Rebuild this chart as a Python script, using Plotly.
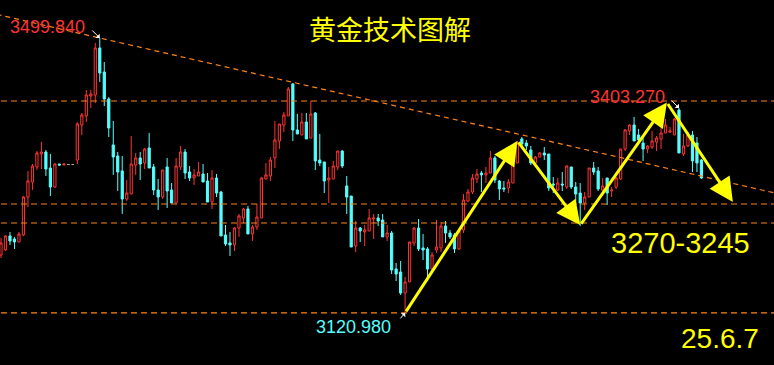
import plotly.graph_objects as go

# ---------------- data ----------------
opens = [3200.8, 3207.7, 3227.0, 3222.9, 3218.7, 3228.4, 3280.7, 3301.4, 3322.1, 3340.0,
         3342.7, 3320.7, 3294.5, 3326.2, 3324.8, 3325.5, 3325.5, 3331.7, 3379.9, 3392.4,
         3419.9, 3421.3, 3486.1, 3453.0, 3415.8, 3352.4, 3337.2, 3316.6, 3277.9, 3284.9,
         3324.8, 3334.5, 3327.6, 3348.3, 3322.1, 3290.4, 3280.7, 3322.1, 3290.4, 3272.5,
         3322.1, 3342.7, 3315.2, 3306.9, 3309.7, 3312.4, 3302.8, 3273.8, 3306.9, 3287.6,
         3228.4, 3217.4, 3214.6, 3238.0, 3251.8, 3264.2, 3229.8, 3239.4, 3251.8, 3305.5,
         3309.7, 3334.5, 3357.9, 3379.9, 3392.4, 3436.5, 3373.1, 3366.2, 3384.1, 3362.0,
         3396.5, 3331.7, 3329.0, 3304.2, 3305.5, 3322.1, 3344.1, 3295.9, 3282.1, 3213.2,
         3238.0, 3232.5, 3233.9, 3250.4, 3251.8, 3249.0, 3225.7, 3231.1, 3181.5, 3177.4,
         3148.4, 3163.6, 3217.4, 3238.0, 3210.5, 3209.1, 3181.5, 3207.7, 3210.5, 3240.8,
         3231.1, 3228.4, 3209.1, 3235.3, 3275.2, 3287.6, 3305.5, 3313.8, 3311.1, 3313.8,
         3334.5, 3302.8, 3293.1, 3293.1, 3300.0, 3327.6, 3360.7, 3355.1, 3345.5, 3327.6,
         3335.9, 3341.4, 3340.0, 3298.6, 3290.4, 3298.6, 3294.5, 3322.1, 3294.5, 3286.2,
         3272.5, 3280.7, 3320.7, 3316.6, 3290.4, 3306.9, 3289.0, 3294.5, 3305.5, 3346.9,
         3371.7, 3379.9, 3366.2, 3355.1, 3346.9, 3349.6, 3356.5, 3360.7, 3368.9, 3370.3,
         3366.2, 3400.6, 3340.0, 3351.0, 3366.2, 3355.1, 3331.7]
highs = [3224.3, 3228.4, 3232.5, 3225.7, 3232.5, 3282.1, 3316.6, 3326.2, 3344.1, 3356.5,
         3345.5, 3340.0, 3327.6, 3326.2, 3326.2, 3325.5, 3325.5, 3384.1, 3396.5, 3428.2,
         3428.2, 3493.0, 3499.84, 3466.8, 3418.5, 3385.4, 3342.7, 3337.2, 3304.2, 3364.8,
         3341.4, 3342.7, 3348.3, 3369.0, 3326.2, 3305.5, 3317.9, 3334.5, 3300.0, 3334.5,
         3351.0, 3346.9, 3323.4, 3319.3, 3329.0, 3326.2, 3313.8, 3317.9, 3312.4, 3289.0,
         3242.2, 3232.5, 3239.4, 3257.3, 3265.6, 3268.3, 3242.2, 3271.1, 3308.3, 3327.6,
         3335.9, 3385.4, 3381.3, 3397.9, 3432.3, 3437.8, 3395.1, 3396.5, 3396.5, 3413.0,
         3397.9, 3367.6, 3329.0, 3322.1, 3330.4, 3344.1, 3345.5, 3309.7, 3282.1, 3247.6,
         3239.4, 3242.2, 3264.2, 3257.3, 3257.3, 3257.3, 3242.2, 3233.9, 3189.8, 3192.5,
         3170.5, 3218.7, 3239.4, 3250.4, 3229.8, 3211.8, 3204.9, 3249.0, 3246.3, 3247.6,
         3235.3, 3231.1, 3233.9, 3284.9, 3291.8, 3312.4, 3319.3, 3316.6, 3322.1, 3344.1,
         3337.2, 3304.2, 3302.8, 3305.5, 3333.1, 3357.9, 3363.4, 3359.3, 3351.0, 3337.2,
         3342.7, 3349.6, 3340.0, 3308.3, 3306.9, 3315.2, 3324.8, 3322.1, 3301.4, 3300.0,
         3287.6, 3320.7, 3329.0, 3322.1, 3306.9, 3306.9, 3294.5, 3308.3, 3346.9, 3374.5,
         3381.3, 3391.0, 3374.5, 3363.4, 3352.4, 3371.7, 3364.8, 3379.9, 3388.2, 3377.2,
         3389.6, 3403.27, 3367.6, 3370.3, 3371.7, 3363.4, 3333.1]
lows = [3196.7, 3206.3, 3214.6, 3209.1, 3218.7, 3227.0, 3266.9, 3290.4, 3317.9, 3319.3,
        3309.7, 3282.1, 3293.1, 3323.4, 3324.8, 3325.5, 3325.5, 3326.2, 3366.2, 3384.1,
        3403.4, 3410.3, 3439.2, 3406.1, 3363.4, 3311.1, 3289.0, 3257.3, 3275.2, 3284.9,
        3311.1, 3304.2, 3319.3, 3320.7, 3283.5, 3262.8, 3277.9, 3265.6, 3272.5, 3272.5,
        3317.9, 3305.5, 3302.8, 3297.3, 3309.7, 3301.4, 3273.8, 3264.2, 3280.7, 3227.0,
        3213.2, 3199.4, 3206.3, 3225.7, 3244.9, 3229.8, 3220.1, 3235.3, 3251.8, 3305.5,
        3302.8, 3320.7, 3346.9, 3370.3, 3392.4, 3357.9, 3367.6, 3366.2, 3360.7, 3362.0,
        3317.9, 3323.4, 3286.2, 3272.5, 3305.5, 3317.9, 3320.7, 3257.3, 3211.8, 3204.9,
        3218.7, 3213.2, 3233.9, 3222.9, 3240.8, 3225.7, 3220.1, 3174.6, 3164.9, 3145.7,
        3120.98, 3163.6, 3213.2, 3206.3, 3193.9, 3164.9, 3180.1, 3203.6, 3204.9, 3217.4,
        3222.9, 3203.6, 3207.7, 3231.1, 3273.8, 3284.9, 3300.0, 3287.6, 3300.0, 3313.8,
        3300.0, 3276.6, 3287.6, 3286.2, 3300.0, 3327.6, 3349.6, 3345.5, 3324.8, 3322.1,
        3335.9, 3331.7, 3289.0, 3286.2, 3289.0, 3289.0, 3291.8, 3291.8, 3272.5, 3240.8,
        3262.8, 3280.7, 3311.1, 3289.0, 3286.2, 3269.7, 3280.7, 3291.8, 3304.2, 3344.1,
        3366.2, 3357.9, 3355.1, 3330.4, 3341.4, 3346.9, 3344.1, 3346.9, 3368.9, 3368.9,
        3366.2, 3341.4, 3337.2, 3349.6, 3315.2, 3315.2, 3305.5]
closes = [3217.4, 3227.0, 3220.1, 3218.7, 3229.8, 3280.7, 3302.8, 3323.4, 3341.4, 3342.7,
          3319.3, 3294.5, 3326.2, 3324.8, 3326.2, 3325.5, 3325.5, 3381.3, 3393.7, 3421.3,
          3422.7, 3486.1, 3451.6, 3415.8, 3375.8, 3335.9, 3315.2, 3277.9, 3286.2, 3326.2,
          3334.5, 3326.2, 3346.9, 3320.7, 3290.4, 3280.7, 3317.9, 3289.0, 3272.5, 3323.4,
          3342.7, 3313.8, 3306.9, 3311.1, 3315.2, 3301.4, 3273.8, 3306.9, 3286.2, 3227.0,
          3216.0, 3214.6, 3238.0, 3254.6, 3264.2, 3229.8, 3239.4, 3253.2, 3306.9, 3311.1,
          3331.7, 3359.3, 3381.3, 3393.7, 3429.6, 3373.1, 3367.6, 3384.1, 3360.7, 3395.1,
          3330.4, 3327.6, 3302.8, 3306.9, 3323.4, 3344.1, 3323.4, 3280.7, 3211.8, 3238.0,
          3233.9, 3235.3, 3251.8, 3251.8, 3247.6, 3225.7, 3231.1, 3180.1, 3174.6, 3148.4,
          3163.6, 3218.7, 3238.0, 3209.1, 3207.7, 3181.5, 3200.8, 3211.8, 3240.8, 3231.1,
          3225.7, 3209.1, 3233.9, 3276.6, 3287.6, 3306.9, 3312.4, 3311.1, 3313.8, 3334.5,
          3304.2, 3291.8, 3291.8, 3301.4, 3327.6, 3355.1, 3353.8, 3351.0, 3327.6, 3335.9,
          3341.4, 3338.6, 3293.1, 3297.3, 3300.0, 3297.3, 3323.4, 3294.5, 3284.9, 3272.5,
          3280.7, 3320.7, 3315.2, 3291.8, 3295.9, 3286.2, 3290.4, 3306.9, 3346.9, 3373.1,
          3379.9, 3357.9, 3359.3, 3346.9, 3351.0, 3357.9, 3362.0, 3368.9, 3379.9, 3371.7,
          3388.2, 3341.4, 3351.0, 3366.2, 3330.4, 3327.6, 3306.9]

levels = [3413.0, 3271.1, 3244.9, 3120.9]          # horizontal dashed levels
trend_x = [-1, 173]                                  # descending trendline
trend_y = [3532.5, 3285.3]
wave_x = [90, 115, 129, 148.3, 163]                  # yellow wave path (index)
wave_y = [3120.98, 3358.0, 3242.0, 3411.0, 3273.8]   # yellow wave path (price)

title_text = "黄金技术图解"
high_label = "3499.840"
high2_label = "3403.270"
low_label = "3120.980"
target_text = "3270-3245"
date_text = "25.6.7"

# ---------------- styles ----------------
RED = "#FF3333"
CYAN = "#55FFFF"
ORANGE = "#FF8418"
YELLOW = "#FFFF00"
W, H = 774, 365
X_RANGE = [-0.223, 172.16]
Y_RANGE = [3049.2, 3552.2]

n = len(opens)
idx = list(range(n))
main = [i for i in idx if opens[i] != closes[i]]
doji = [i for i in idx if opens[i] == closes[i]]

fig = go.Figure()

for lv in levels:
    fig.add_trace(go.Scatter(x=[X_RANGE[0] - 2, X_RANGE[1] + 2], y=[lv, lv], mode="lines",
                             line=dict(color=ORANGE, width=1.2, dash="6px,4px"), hoverinfo="skip"))
fig.add_trace(go.Scatter(x=trend_x, y=trend_y, mode="lines",
                         line=dict(color=ORANGE, width=1.2, dash="5px,4px"), hoverinfo="skip"))

fig.add_trace(go.Candlestick(
    x=main,
    open=[opens[i] for i in main], high=[highs[i] for i in main],
    low=[lows[i] for i in main], close=[closes[i] for i in main],
    increasing=dict(line=dict(color=RED, width=1), fillcolor="rgba(0,0,0,0)"),
    decreasing=dict(line=dict(color=CYAN, width=1), fillcolor=CYAN),
))
fig.add_trace(go.Candlestick(
    x=doji,
    open=[opens[i] for i in doji], high=[highs[i] for i in doji],
    low=[lows[i] for i in doji], close=[closes[i] for i in doji],
    increasing=dict(line=dict(color="#AAAAAA", width=1), fillcolor="#AAAAAA"),
    decreasing=dict(line=dict(color="#AAAAAA", width=1), fillcolor="#AAAAAA"),
))

ann = []
# yellow wave arrows
for k in range(len(wave_x) - 1):
    ann.append(dict(x=wave_x[k + 1], y=wave_y[k + 1], ax=wave_x[k], ay=wave_y[k],
                    xref="x", yref="y", axref="x", ayref="y", text="", showarrow=True,
                    arrowhead=2, arrowsize=1.6, arrowwidth=3, arrowcolor=YELLOW, standoff=0))

# white cursor arrows to extremes
hi_i = highs.index(max(highs))
lo_i = lows.index(min(lows))
hi2_i = 151
for (xi, yv, axp, ayp) in [(hi_i, highs[hi_i], -9, -9), (hi2_i, highs[hi2_i], -9, -9),
                           (lo_i, lows[lo_i], -6, 7)]:
    ann.append(dict(x=xi, y=yv, xref="x", yref="y", ax=axp, ay=ayp, text="", showarrow=True,
                    arrowhead=1, arrowsize=1, arrowwidth=1, arrowcolor="white", standoff=0))


def px(xp, yp):
    return xp / W, 1 - yp / H


tx, ty = px(390, 28)
ann.append(dict(x=tx, y=ty, xref="paper", yref="paper", text=title_text, showarrow=False,
                font=dict(family="Noto Sans CJK SC", size=27, color=YELLOW),
                xanchor="center", yanchor="middle"))
for (lab, xp, yp, col) in [(high_label, 8, 27, RED), (high2_label, 588, 97, RED),
                           (low_label, 314, 327, CYAN)]:
    lx, ly = px(xp, yp)
    ann.append(dict(x=lx, y=ly, xref="paper", yref="paper", text=lab, showarrow=False,
                    font=dict(family="Liberation Sans", size=18, color=col),
                    xanchor="left", yanchor="middle"))
gx, gy = px(680, 243)
ann.append(dict(x=gx, y=gy, xref="paper", yref="paper", text=target_text, showarrow=False,
                font=dict(family="Liberation Sans", size=29, color=YELLOW),
                xanchor="center", yanchor="middle"))
dx, dy = px(720, 338)
ann.append(dict(x=dx, y=dy, xref="paper", yref="paper", text=date_text, showarrow=False,
                font=dict(family="Liberation Sans", size=28, color=YELLOW),
                xanchor="center", yanchor="middle"))

fig.update_layout(
    width=W, height=H, margin=dict(l=0, r=0, t=0, b=0, pad=0),
    paper_bgcolor="black", plot_bgcolor="black", showlegend=False,
    xaxis=dict(visible=False, range=X_RANGE, rangeslider=dict(visible=False), fixedrange=True),
    yaxis=dict(visible=False, range=Y_RANGE, fixedrange=True),
    annotations=ann,
)

fig.write_html("out.html", config={"displayModeBar": False})
